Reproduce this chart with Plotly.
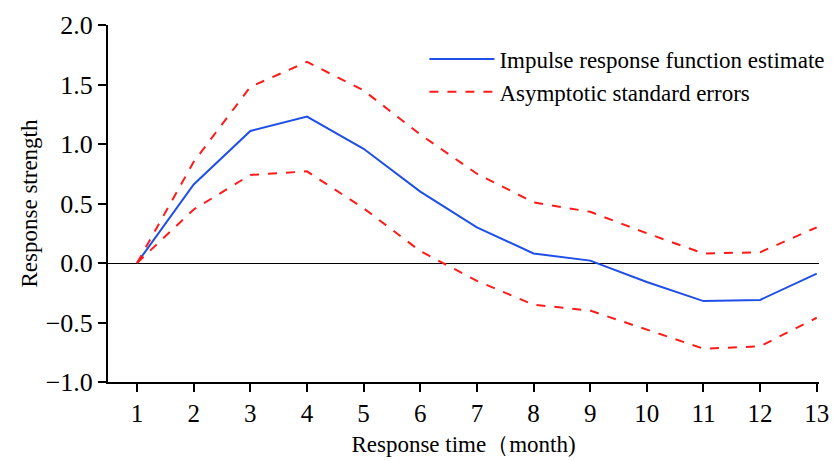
import plotly.graph_objects as go

months = list(range(1, 14))
irf = [0.0, 0.66, 1.11, 1.23, 0.96, 0.60, 0.30, 0.08, 0.02, -0.16, -0.32, -0.31, -0.09]
upper = [0.0, 0.85, 1.48, 1.69, 1.45, 1.08, 0.75, 0.51, 0.43, 0.25, 0.08, 0.09, 0.30]
lower = [0.0, 0.45, 0.74, 0.77, 0.46, 0.10, -0.15, -0.35, -0.40, -0.56, -0.72, -0.70, -0.46]
y_ticks = [-1.0, -0.5, 0.0, 0.5, 1.0, 1.5, 2.0]

font = "Liberation Serif, Times New Roman, serif"

fig = go.Figure()
fig.add_trace(go.Scatter(x=months, y=irf, mode="lines", name="Impulse response function estimate",
                         line=dict(color="#1f4fe8", width=2)))
fig.add_trace(go.Scatter(x=months, y=upper, mode="lines", name="Asymptotic standard errors",
                         line=dict(color="#ff1a1a", width=2, dash="dash")))
fig.add_trace(go.Scatter(x=months, y=lower, mode="lines", name="lower", showlegend=False,
                         line=dict(color="#ff1a1a", width=2, dash="dash")))

fig.update_layout(
    width=833, height=461,
    margin=dict(l=108, r=14, t=25, b=79, autoexpand=False),
    paper_bgcolor="white", plot_bgcolor="white",
    font=dict(family=font, size=24, color="black"),
    showlegend=True,
    legend=dict(x=0.445, y=0.965, xanchor="left", yanchor="top",
                font=dict(family=font, size=23), bgcolor="rgba(0,0,0,0)",
                tracegroupgap=0, itemwidth=65),
    xaxis=dict(range=[0.487, 13.04], tickmode="array", tickvals=months,
               showline=True, linecolor="black", linewidth=2,
               ticks="outside", ticklen=8, tickwidth=1.5, tickcolor="black",
               showgrid=False, zeroline=False, automargin=False,
               tickfont=dict(size=25),
               title=dict(text="Response time（month)", font=dict(size=23), standoff=10)),
    yaxis=dict(range=[-1.0, 2.0], tickmode="array", tickvals=y_ticks, tickformat=".1f",
               showline=True, linecolor="black", linewidth=2,
               ticks="outside", ticklen=8, tickwidth=1.5, tickcolor="black",
               showgrid=False, zeroline=True, zerolinecolor="black", zerolinewidth=1,
               automargin=False,
               tickfont=dict(size=26),
               title=dict(text="Response strength", font=dict(size=23), standoff=2)),
)

fig.write_html("out.html")
